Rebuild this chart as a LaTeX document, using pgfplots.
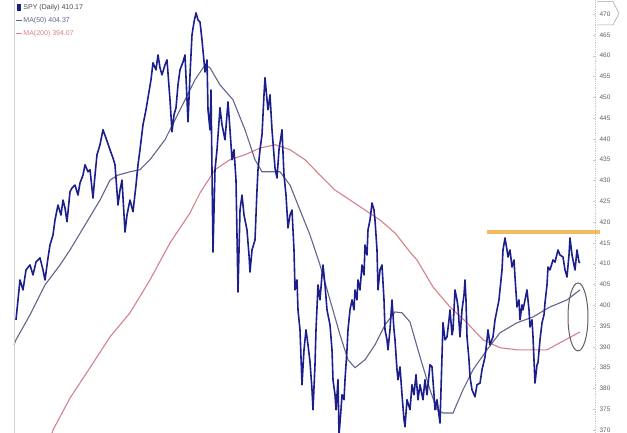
\documentclass[border=0pt]{standalone}
\usepackage{fontspec}
\setmainfont{Liberation Sans}
\usepackage{pgfplots}
\pgfplotsset{compat=1.18}

\definecolor{spyblue}{RGB}{28,30,140}
\definecolor{maslate}{RGB}{100,100,140}
\definecolor{mapink}{RGB}{214,128,140}
\definecolor{resist}{RGB}{240,180,80}
\definecolor{ticktxt}{RGB}{95,95,95}

\begin{document}
\begin{tikzpicture}
\path[use as bounding box] (0,0) rectangle (627pt,433pt);
\begin{axis}[
  at={(14pt,0pt)}, anchor=south west,
  scale only axis,
  width=581pt, height=433pt,
  xmin=14, xmax=595,
  ymin=369.3, ymax=473.4,
  axis x line=none,
  axis y line*=right,
  y axis line style={gray!45, densely dotted, line width=0.8pt},
  ytick={370,375,...,470},
  major tick length=2pt,
  tick style={gray!45},
  yticklabel style={font=\fontsize{6.5}{6.5}\selectfont, text=ticktxt, xshift=1pt},
  /pgf/number format/assume math mode=true,
  clip=false,
]
% 200-day moving average
\addplot[mapink, line width=1.1pt] coordinates {
  (52,369.3) (53,370.0) (70,377.7) (90,385.0) (110,392.4) (130,398.2)
  (150,406.1) (170,415.0) (190,422.2) (200,427.0) (215,432.6) (230,435.0)
  (245,436.2) (260,437.8) (275,438.6) (290,437.4) (305,435.0) (320,431.3)
  (335,427.7) (350,425.3) (365,422.9) (380,420.5) (395,417.4) (410,412.8)
  (417,410.9) (433,404.4) (450,399.6) (467,395.8) (483,391.7) (500,389.8)
  (517,389.3) (533,389.3) (547,389.3) (560,391.0) (580,393.6)
};
% 50-day moving average
\addplot[maslate, line width=1.1pt] coordinates {
  (14,390.5) (16,391.7) (30,397.7) (45,404.9) (60,409.7) (70,413.3)
  (85,419.3) (100,425.3) (110,430.1) (118,431.3) (130,432.1) (140,432.6)
  (150,435.0) (165,439.8) (180,447.0) (195,454.2) (205,457.8) (210,457.1)
  (220,453.0) (233,449.4) (245,442.2) (255,435.0) (262,432.1) (270,432.1)
  (280,432.1) (290,428.9) (300,422.9) (310,416.9) (320,409.7) (330,401.3)
  (340,392.9) (348,386.9) (355,385.0) (365,386.9) (375,390.5) (385,395.3)
  (395,398.4) (402,398.2) (410,396.0) (420,387.6) (430,379.7) (437,374.9)
  (443,374.1) (453,374.1) (463,379.7) (473,384.5) (487,389.3) (500,393.4)
  (517,395.8) (533,397.2) (550,399.6) (567,401.3) (580,403.7)
};
% SPY daily close
\addplot[spyblue, line width=1.6pt, line join=round] coordinates {
  (16,396.5) (18,401.3) (20,406.1) (23,403.7) (26,408.5) (30,409.7)
  (33,407.3) (36,410.4) (40,411.4) (43,408.5) (45,406.1) (48,411.4)
  (50,414.5) (53,416.9) (55,420.5) (58,424.1) (61,421.7) (63,425.3)
  (65,423.4) (67,420.1) (70,427.3) (72,428.2) (75,428.9) (78,426.5)
  (80,429.4) (83,431.3) (85,433.8) (88,432.1) (90,432.6) (93,425.8)
  (95,431.3) (97,436.2) (100,438.6) (103,442.2) (106,440.2) (110,437.4)
  (113,435.4) (115,433.8) (118,424.1) (120,427.7) (122,430.1) (125,417.6)
  (127,421.7) (130,425.3) (133,422.5) (136,428.9) (138,433.8) (140,437.4)
  (143,443.4) (146,447.0) (148,449.9) (151,454.2) (153,458.3) (156,456.6)
  (158,460.2) (160,457.1) (162,455.4) (165,457.8) (167,459.0) (170,449.4)
  (172,441.7) (174,445.8) (176,447.5) (178,453.0) (180,456.6) (183,458.5)
  (185,460.2) (188,444.1) (190,455.4) (192,465.0) (194,468.1) (196,470.3)
  (198,468.6) (200,468.1) (202,463.8) (205,456.1) (207,459.0) (208,447.0)
  (210,442.2) (211,451.8) (213,412.8) (215,432.6) (217,437.4) (220,447.5)
  (222,443.4) (225,439.8) (228,448.9) (230,442.2) (232,435.0) (234,437.4)
  (236,430.1) (238,403.2) (240,422.9) (242,426.5) (244,421.7) (247,418.1)
  (249,412.1) (250,408.0) (252,413.3) (255,415.7) (257,427.7) (258,432.6)
  (260,437.4) (262,441.0) (264,450.6) (265,454.7) (267,449.4) (268,447.0)
  (270,450.6) (272,442.2) (275,433.0) (277,430.6) (279,437.4) (282,442.2)
  (284,431.3) (286,426.5) (288,418.6) (290,421.7) (292,422.9) (294,413.3)
  (295,403.7) (297,406.1) (298,398.9) (300,394.1) (302,380.9) (304,389.3)
  (306,394.1) (308,390.5) (310,386.4) (312,379.7) (313,374.9) (315,385.7)
  (316,394.1) (318,404.9) (320,401.3) (322,407.3) (323,409.7) (325,404.9)
  (327,398.9) (330,395.3) (332,389.3) (333,382.1) (335,378.5) (336,374.9)
  (338,382.1) (339,368.8) (341,374.9) (342,378.5) (344,377.3) (345,382.1)
  (347,389.3) (348,394.1) (350,398.9) (352,401.3) (354,398.9) (355,403.7)
  (357,401.3) (358,406.1) (360,403.7) (362,409.7) (364,407.3) (365,414.5)
  (367,412.1) (368,418.1) (370,420.5) (372,424.6) (374,422.9) (375,420.5)
  (377,413.3) (378,403.7) (380,408.5) (382,409.7) (384,401.3) (385,394.1)
  (387,391.7) (388,389.3) (390,394.1) (392,401.3) (394,394.1) (395,391.7)
  (397,384.5) (398,382.1) (400,385.2) (402,378.5) (404,372.5) (405,370.8)
  (407,377.3) (410,374.9) (412,380.9) (414,378.5) (416,383.3) (418,377.3)
  (420,380.9) (423,377.3) (425,382.1) (427,378.5) (430,385.7) (432,385.2)
  (434,378.5) (435,374.9) (437,377.3) (440,371.7) (441,379.7) (443,395.8)
  (445,391.7) (447,392.4) (449,396.5) (450,398.9) (452,392.9) (453,394.1)
  (455,403.7) (457,401.3) (458,399.6) (460,392.4) (462,398.9) (464,402.5)
  (465,406.1) (466,401.3) (467,392.4) (469,386.9) (470,382.8) (472,379.7)
  (475,378.0) (477,380.9) (480,381.3) (482,384.5) (485,387.6) (487,391.7)
  (488,394.1) (490,390.5) (493,392.4) (495,396.5) (497,398.9) (499,401.3)
  (500,403.7) (502,408.5) (503,413.3) (505,416.2) (507,413.3) (508,411.6)
  (510,413.3) (512,409.2) (514,410.9) (515,406.8) (517,399.6) (519,401.3)
  (520,396.5) (522,400.1) (523,398.9) (525,401.3) (527,403.7) (529,398.9)
  (530,394.8) (532,396.5) (533,392.4) (535,381.3) (537,385.7) (538,386.2)
  (540,391.7) (542,395.8) (544,397.7) (545,400.6) (547,404.9) (548,409.2)
  (550,408.5) (553,410.9) (555,410.4) (558,413.3) (560,412.1) (563,411.6)
  (565,408.5) (567,406.8) (569,412.1) (570,416.2) (572,412.1) (573,410.9)
  (575,408.5) (577,413.3) (579,410.4) (580,410.2)
};
% resistance line
\addplot[resist, line width=3.5pt, opacity=0.9] coordinates {
  (487,417.6) (600,417.6)
};
% highlight ellipse
\draw[gray!75!black, line width=1pt] (axis cs:578,397.2) ellipse [x radius=10pt, y radius=34pt];
% left frame line
\draw[gray!35, line width=0.8pt] (axis cs:14,369.3) -- (axis cs:14,473.4);
% last-value tag on the price scale
\draw[gray!70, line width=0.6pt]
  (axis cs:597,473.0) -- (axis cs:613,473.0) -- (axis cs:619,470.2)
  -- (axis cs:613,467.4) -- (axis cs:597,467.4);
% legend
\node[anchor=west, font=\fontsize{7}{7}\selectfont, text=gray!55!black, inner sep=0pt]
  at (axis description cs:0.016,0.982) {SPY (Daily) 410.17};
\node[anchor=west, font=\fontsize{7}{7}\selectfont, text=maslate, inner sep=0pt]
  at (axis description cs:0.016,0.952) {MA(50) 404.37};
\node[anchor=west, font=\fontsize{7}{7}\selectfont, text=mapink, inner sep=0pt]
  at (axis description cs:0.016,0.922) {MA(200) 394.07};
\fill[spyblue] (axis description cs:0.006,0.975) rectangle (axis description cs:0.012,0.990);
\draw[maslate, line width=1.2pt] (axis description cs:0.004,0.952) -- (axis description cs:0.013,0.952);
\draw[mapink, line width=1.2pt] (axis description cs:0.004,0.922) -- (axis description cs:0.013,0.922);
\end{axis}
\end{tikzpicture}
\end{document}
